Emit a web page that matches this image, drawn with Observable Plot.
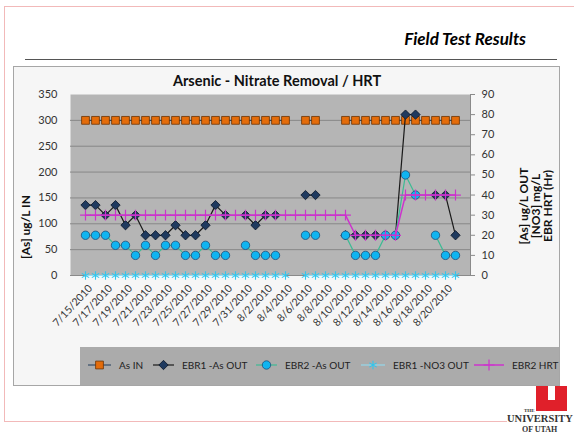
<!DOCTYPE html>
<html><head><meta charset="utf-8">
<script src="https://cdn.jsdelivr.net/npm/d3@7"></script>
<script src="https://cdn.jsdelivr.net/npm/@observablehq/plot@0.6"></script>
<style>
html,body{margin:0;padding:0;}
body{width:574px;height:433px;overflow:hidden;background:#fff;position:relative;font-family:Lato,"Open Sans",sans-serif;}
.abs{position:absolute;}
#chart{position:absolute;left:0;top:0;}
.lg{position:absolute;top:358px;height:14px;display:flex;align-items:center;font-size:10px;color:#222;white-space:nowrap;}
.lg svg{margin-right:8px;}
</style></head><body>
<!-- slide border -->
<div class="abs" style="left:4px;top:6px;width:570px;height:1px;background:#f2b9b9"></div>
<div class="abs" style="left:4px;top:6px;width:1px;height:415px;background:#f2b9b9"></div>
<div class="abs" style="left:4px;top:421px;width:503px;height:1px;background:#f2b9b9"></div>
<div class="abs" style="right:48px;top:28px;font-size:17px;font-weight:bold;font-style:italic;color:#000;">Field Test Results</div>
<div class="abs" style="left:25px;top:59px;width:532px;height:1px;background:#555"></div>
<!-- chart frame -->
<div class="abs" style="left:13px;top:66px;width:545px;height:318px;border:1px solid #a6a6a6;background:#f6f6f6"></div>
<div class="abs" style="left:80px;top:347px;width:479px;height:38px;background:#ababab"></div>
<div class="abs" style="left:77px;width:400px;top:72px;text-align:center;font-size:14.5px;font-weight:bold;color:#111;">Arsenic - Nitrate Removal / HRT</div>
<div class="abs" style="left:25px;top:227px;width:0;height:0;">
  <div style="position:absolute;transform:translate(-50%,-50%) rotate(-90deg);white-space:nowrap;font-size:12px;font-weight:bold;color:#111;">[As] ug/L IN</div>
</div>
<div class="abs" style="left:536px;top:206px;width:0;height:0;">
  <div style="position:absolute;transform:translate(-50%,-50%) rotate(-90deg);white-space:nowrap;font-size:12px;line-height:12px;font-weight:bold;color:#111;text-align:center;">[As] ug/L OUT<br>[NO3] mg/L<br>EBR HRT (Hr)</div>
</div>
<div id="chart"></div>
<div id="legend"></div>
<!-- logo -->
<svg class="abs" style="left:500px;top:383px" width="74" height="50">
  <path d="M36,3 H48 V17 H55 V3 H67 V28 H36 Z" fill="#e0202a"/>
  <text x="24" y="29" font-size="5" font-family="Liberation Serif" font-weight="bold" fill="#333">THE</text>
  <text x="7" y="39" font-size="10.5" font-family="Liberation Serif" font-weight="bold" fill="#333">UNIVERSITY</text>
  <text x="22" y="49" font-size="8" font-family="Liberation Serif" font-weight="bold" fill="#333">OF UTAH</text>
</svg>
<script>
const dates = ["7/15/2010","7/16/2010","7/17/2010","7/18/2010","7/19/2010","7/20/2010","7/21/2010","7/22/2010","7/23/2010","7/24/2010","7/25/2010","7/26/2010","7/27/2010","7/28/2010","7/29/2010","7/30/2010","7/31/2010","8/1/2010","8/2/2010","8/3/2010","8/4/2010","8/5/2010","8/6/2010","8/7/2010","8/8/2010","8/9/2010","8/10/2010","8/11/2010","8/12/2010","8/13/2010","8/14/2010","8/15/2010","8/16/2010","8/17/2010","8/18/2010","8/19/2010","8/20/2010","8/21/2010"];
const asIn = [300,300,300,300,300,300,300,300,300,300,300,300,300,300,300,300,300,300,300,300,300,null,300,300,null,null,300,300,300,300,300,300,300,300,300,300,300,300];
const ebr1AsOut = [35,35,30,35,25,30,20,20,20,25,20,20,25,35,30,null,30,25,30,30,null,null,40,40,null,null,20,20,20,20,20,20,80,80,null,40,40,20];
const ebr2AsOut = [20,20,20,15,15,10,15,10,15,15,10,10,15,10,10,null,15,10,10,10,null,null,20,20,null,null,20,10,10,10,20,20,50,40,null,20,10,10];
const ebr1No3Out = [0,0,0,0,0,0,0,0,0,0,0,0,0,0,0,0,0,0,0,0,0,null,0,0,0,0,0,0,0,0,0,0,0,0,0,0,0,0];
const ebr2Hrt = [30,30,30,30,30,30,30,30,30,30,30,30,30,30,30,30,30,30,30,30,30,30,30,30,30,30,30,20,20,20,20,20,40,40,40,40,40,40];
const leftTicks = [0,50,100,150,200,250,300,350];
const rightTicks = [0,10,20,30,40,50,60,70,80,90];
const tickDates = dates.filter((d, i) => i % 2 === 0);
const seriesNames = ["As IN","EBR1 -As OUT","EBR2 -As OUT","EBR1 -NO3 OUT","EBR2 HRT"];

const L2R = rightTicks[rightTicks.length-1] / leftTicks[leftTicks.length-1];
const rows = (vals, k = 1) => dates.map((d, i) => ({date: d, v: vals[i] == null ? null : vals[i] * k}));

const S = {
  asIn:  {line:"#1f3a5a", lw:1, symbol:"square", r:4.4, fill:"#E46C0A", stroke:"#6b3305", sw:0.8},
  ebr1:  {line:"#1a1a1a", lw:1.2, symbol:"diamond2", r:4.2, fill:"#1F3A5F", stroke:"#0b1726", sw:0.8},
  ebr2:  {line:"#3dbb94", lw:1.2, symbol:"circle", r:4.2, fill:"#10B4F0", stroke:"#1f4e79", sw:0.8},
  no3:   {line:"#8fe0f7", lw:1, symbol:"asterisk", r:4, fill:"none", stroke:"#30c6ee", sw:1.1},
  hrt:   {line:"#cc33cc", lw:1.5, symbol:"plus", r:3.6, fill:"none", stroke:"#cc33cc", sw:1.2}
};
const series = [
  [rows(asIn, L2R), S.asIn],
  [rows(ebr1AsOut), S.ebr1],
  [rows(ebr2AsOut), S.ebr2],
  [rows(ebr1No3Out), S.no3],
  [rows(ebr2Hrt), S.hrt]
];
const seriesMarks = series.flatMap(([data, s]) => [
  Plot.line(data, {x:"date", y:"v", stroke:s.line, strokeWidth:s.lw}),
  Plot.dot(data, {x:"date", y:"v", symbol:s.symbol, r:s.r, fill:s.fill, stroke:s.stroke, strokeWidth:s.sw})
]);

const chart = Plot.plot({
  width:574, height:346,
  marginLeft:70, marginRight:104, marginTop:94, marginBottom:71,
  style:{background:"transparent", fontFamily:"Lato, sans-serif", fontSize:"11px", color:"#333", overflow:"visible"},
  x:{type:"point", domain:dates, padding:0.5, label:null},
  y:{domain:[0,90], label:null},
  marks:[
    Plot.frame({fill:"#b5b5b5", stroke:null}),
    Plot.gridY(leftTicks.slice(1,-1).map(v => v*L2R), {stroke:"#878787", strokeOpacity:1}),
    Plot.ruleY([0], {stroke:"#8a8a8a"}),
    Plot.frame({anchor:"right", stroke:"#8a8a8a"}),
    Plot.axisY(leftTicks.map(v => v*L2R), {anchor:"left", tickSize:0, tickPadding:13, tickFormat:d => String(Math.round(d / L2R)), label:null, fill:"#333"}),
    Plot.axisY(rightTicks, {anchor:"right", tickSize:4, tickPadding:7, label:null, stroke:"#8a8a8a", fill:"#333"}),
    Plot.axisX(tickDates, {anchor:"bottom", tickSize:0, tickPadding:11, dx:5, tickRotate:-47, label:null, fill:"#333", fontSize:10.5})
    ,...seriesMarks
  ]
});
document.getElementById("chart").appendChild(chart);

// legend
const legendX = [88, 153, 256, 361, 474];
const swatchW = [23, 21, 21, 24, 30];
const legendStyles = [S.asIn, S.ebr1, S.ebr2, S.no3, S.hrt];
const symbolTypes = {square:d3.symbolSquare, diamond2:d3.symbolDiamond2, circle:d3.symbolCircle, asterisk:d3.symbolAsterisk, plus:d3.symbolPlus};
const leg = document.getElementById("legend");
seriesNames.forEach((name, i) => {
  const s = legendStyles[i], w = swatchW[i];
  const item = document.createElement("div");
  item.className = "lg";
  item.style.left = legendX[i] + "px";
  const sym = d3.symbol().type(symbolTypes[s.symbol]).size(Math.PI * s.r * s.r)();
  item.innerHTML = `<svg width="${w}" height="14"><line x1="0" x2="${w}" y1="7" y2="7" stroke="${s.line}" stroke-width="${s.lw}"/><path transform="translate(${w/2},7)" d="${sym}" fill="${s.fill}" stroke="${s.stroke}" stroke-width="${s.sw}"/></svg><span>${name}</span>`;
  leg.appendChild(item);
});
</script>
</body></html>
